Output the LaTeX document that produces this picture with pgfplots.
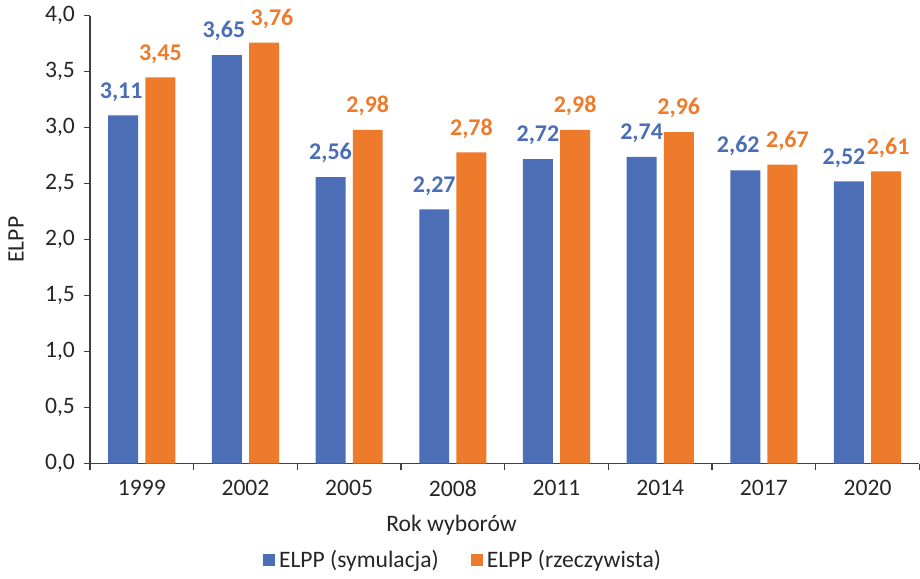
\documentclass[border=0pt]{standalone}
\usepackage{pgfplots}
\pgfplotsset{compat=1.18}
\usepackage{fontspec}
\setmainfont{Carlito}
\definecolor{cblue}{HTML}{4B6EB6}
\definecolor{corange}{HTML}{ED7B2B}
\definecolor{ctext}{HTML}{262626}
\newcommand{\lblfont}{\fontsize{11.8}{14}\selectfont}
\begin{document}
\begin{tikzpicture}
\begin{axis}[
    scale only axis,
    width=415pt, height=224pt,
    ybar=3.6pt,
    bar width=15pt,
    xmin=-0.5, xmax=7.5,
    ymin=0, ymax=4,
    xtick={0,...,7},
    xticklabels={1999,2002,2005,2008,2011,2014,2017,2020},
    minor xtick={-0.5,0.5,...,7.5},
    major x tick style={draw=none},
    minor tick length=3pt,
    ytick={0,0.5,...,4},
    major tick length=3pt,
    tick align=outside,
    axis x line*=bottom,
    axis y line*=left,
    axis line style={black!75, line width=0.6pt},
    every tick/.style={black!75, line width=0.6pt},
    /pgf/number format/assume math mode=true,
    yticklabel style={/pgf/number format/use comma, /pgf/number format/fixed,
        /pgf/number format/fixed zerofill, /pgf/number format/precision=1, xshift=-1pt},
    ticklabel style={font=\lblfont, text=ctext},
    xticklabel style={yshift=-2pt},
    xlabel={Rok wyborów},
    ylabel={ELPP},
    xlabel style={font=\lblfont, text=ctext, at={(axis description cs:0.436,-0.138)}, anchor=center},
    ylabel style={font=\lblfont, text=ctext, at={(axis description cs:-0.089,0.5)}, anchor=center},
    nodes near coords,
    visualization depends on={value \thisrow{dx} \as \dx},
    nodes near coords style={font=\bfseries\fontsize{12}{14}\selectfont, anchor=south, yshift=3.5pt, xshift=\dx pt,
        /pgf/number format/use comma, /pgf/number format/fixed,
        /pgf/number format/fixed zerofill, /pgf/number format/precision=2},
    legend columns=2,
    legend style={draw=none, at={(axis description cs:0.451,-0.2165)}, anchor=center,
        font=\lblfont, text=ctext,
        /tikz/every even column/.append style={column sep=14pt}},
    legend image code/.code={\fill[#1] (0pt,-3pt) rectangle (6pt,3pt);},
    clip=false,
]
% dx = horizontal nudge of the value label (pt)
\addplot[fill=cblue, draw=none, nodes near coords style={text=cblue}] table[x=x, y=y] {
x y dx
0 3.11 -1
1 3.65 -1.5
2 2.56 0
3 2.27 0
4 2.72 0
5 2.74 0
6 2.62 -3.5
7 2.52 -2.5
};
\addplot[fill=corange, draw=none, nodes near coords style={text=corange}] table[x=x, y=y] {
x y dx
0 3.45 0
1 3.76 4
2 2.98 0
3 2.78 0
4 2.98 0
5 2.96 0
6 2.67 2.5
7 2.61 1
};
\legend{ELPP (symulacja), ELPP (rzeczywista)}
\path (rel axis cs:0,0) ++(-45pt,-55.5pt) coordinate (bbll);
\path (rel axis cs:1,1) ++(0pt,7.5pt) coordinate (bbur);
\end{axis}
\useasboundingbox (bbll) rectangle (bbur);
\end{tikzpicture}
\end{document}
